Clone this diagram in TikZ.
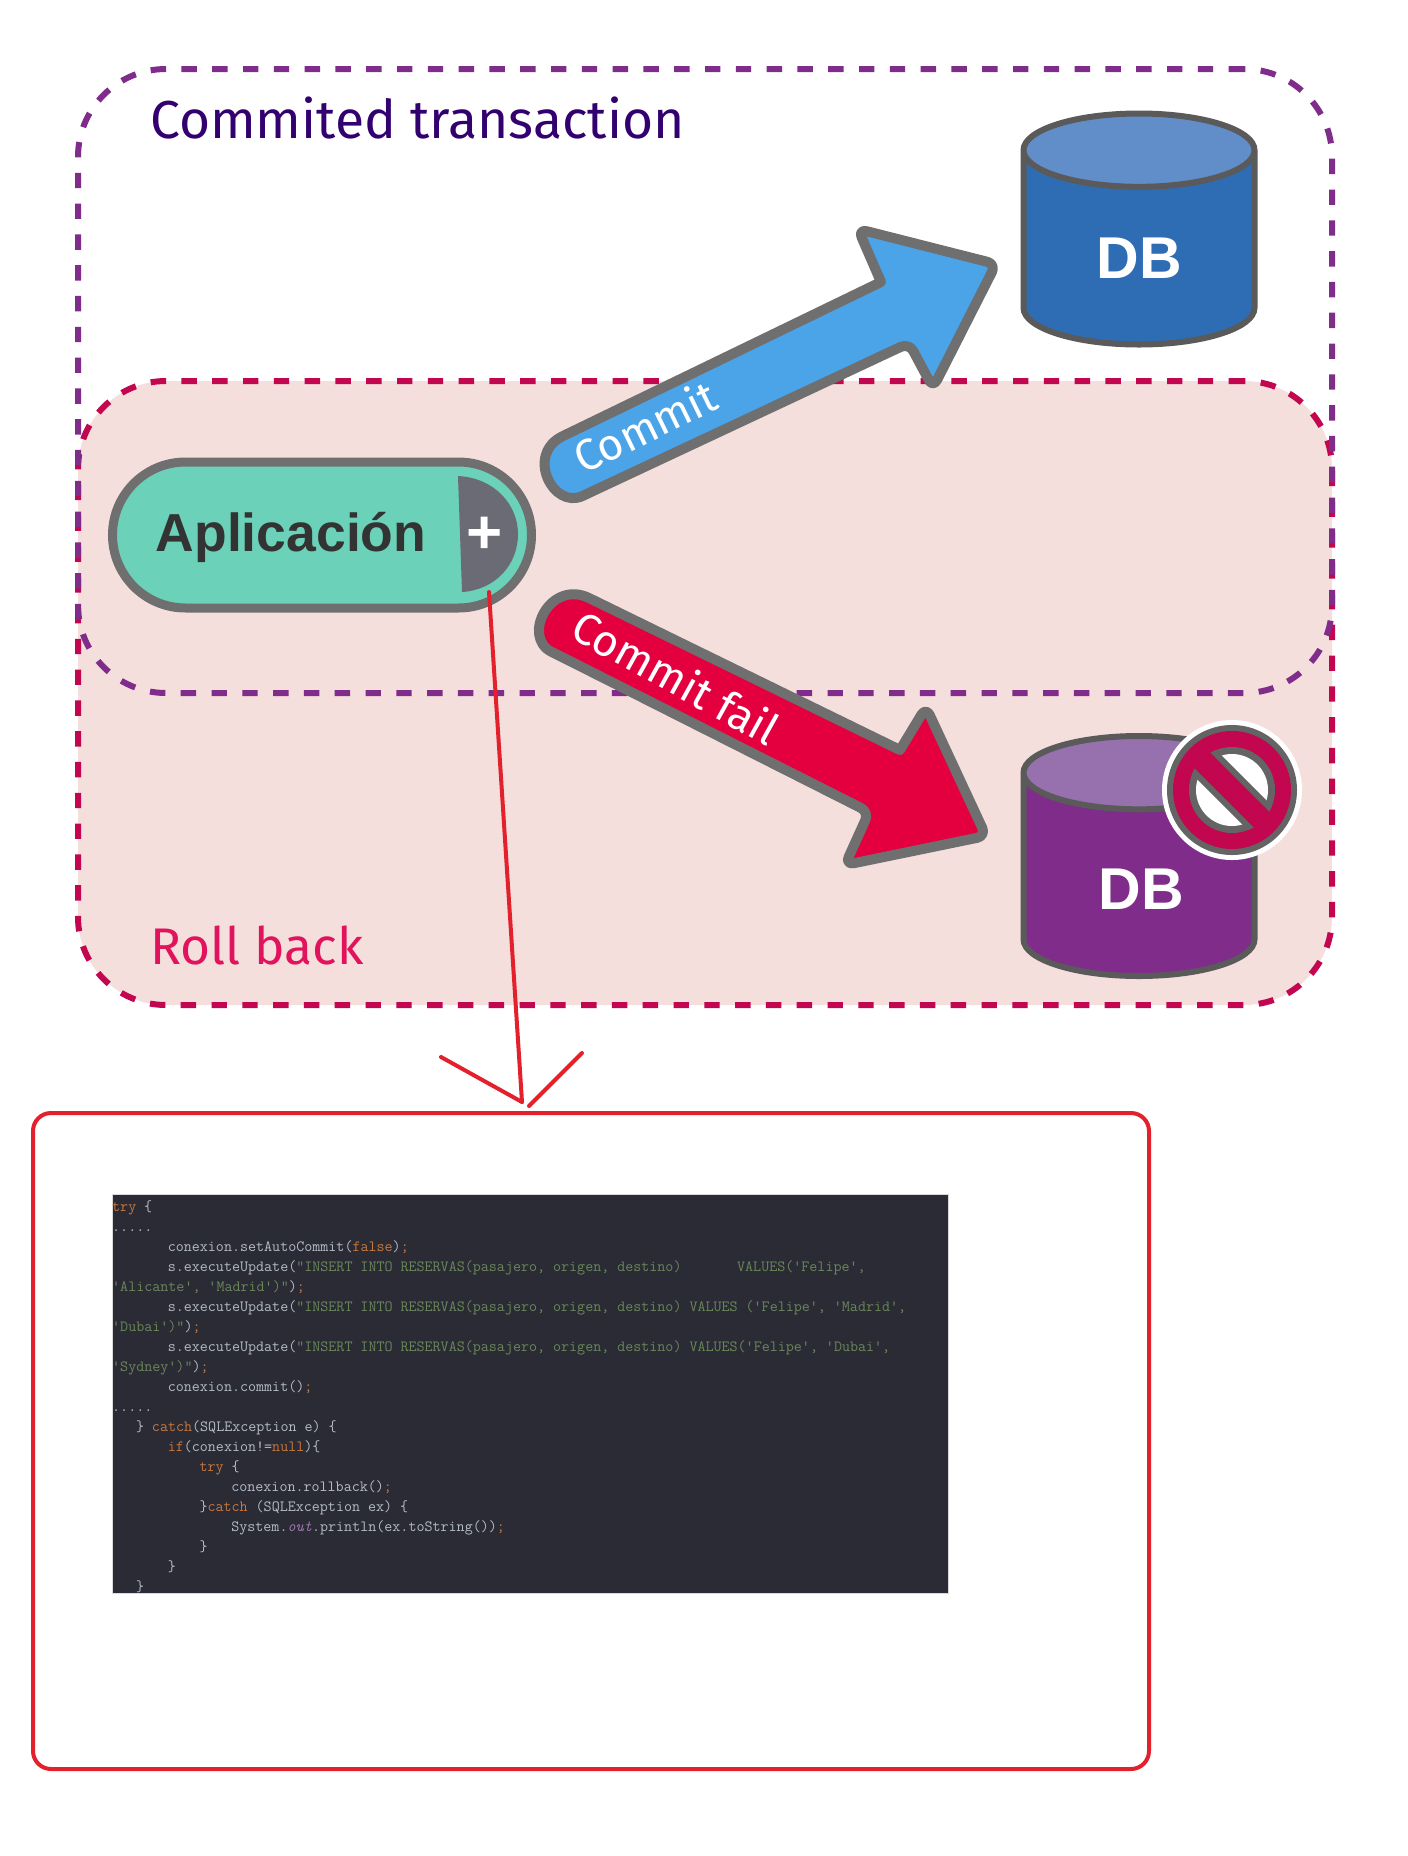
\documentclass[tikz,border=0pt]{standalone}
\usepackage{fontspec}
\usetikzlibrary{shapes.geometric,calc}
\setmainfont{Fira Sans}
\newfontfamily\boldfont{Liberation Sans}[BoldFont={Liberation Sans Bold}]
\definecolor{zonefill}{HTML}{F4DFDD}
\definecolor{zonered}{HTML}{C2064F}
\definecolor{zonepurple}{HTML}{7F2C8A}
\definecolor{edgegray}{HTML}{6F6F6F}
\definecolor{dbedge}{HTML}{5A5A5A}
\definecolor{linered}{HTML}{E3212D}
\definecolor{codebg}{HTML}{2B2B36}
\definecolor{codetxt}{HTML}{B4BCC6}
\definecolor{codekw}{HTML}{C8783C}
\definecolor{codestr}{HTML}{6A8759}
\definecolor{codeout}{HTML}{9876AA}
\newcommand{\kw}[1]{\textcolor{codekw}{#1}}
\newcommand{\str}[1]{\textcolor{codestr}{#1}}
\begin{document}
\begin{tikzpicture}[
    x=1pt, y=-1pt,
    zone/.style={rectangle, rounded corners=88pt, minimum width=1254pt, minimum height=624pt, dash pattern=on 15.4pt off 15.4pt, line width=6pt},
    dbase/.style={cylinder, anchor=shape center, shape border rotate=90, aspect=11, draw=dbedge, line width=6pt, cylinder uses custom fill, minimum width=231pt},
    dblabel/.style={text=white, inner sep=0pt, font=\boldfont\bfseries\fontsize{59}{59}\selectfont},
    bigarrow/.style={draw=edgegray, line width=10pt, line join=round, rounded corners=9pt},
    arrowlabel/.style={text=white, font=\fontsize{44}{44}\selectfont, inner sep=0pt},
    zonelabel/.style={anchor=west, inner sep=0pt},
    redline/.style={draw=linered, line width=4pt, line cap=round}
]
    \useasboundingbox (0,0) rectangle (1408,1856);

    % zones
    \node [zone, fill=zonefill] (rollzone) at (705,693) {};
    \node [zone, draw=zonered] at (705,693) {};
    \node [zone, draw=zonepurple] (commitzone) at (705,381) {};
    \node [zonelabel, text={rgb,255:red,51;green,0;blue,111}, font=\fontsize{53.4}{53.4}\selectfont] (committitle) at (150,118) {Commited transaction};
    \node [zonelabel, text={rgb,255:red,224;green,19;blue,92}, font=\fontsize{51.5}{51.5}\selectfont] (rolltitle) at (150,945) {Roll back};

    % arrows
    \draw [bigarrow, fill={rgb,255:red,75;green,163;blue,232}] (881,282) -- (858,229) -- (996,264) -- (933,388) -- (909,343) -- (591,492)
        [sharp corners] .. controls (553,510) and (525,454) .. (563,436) -- cycle;
    \draw [bigarrow, fill={rgb,255:red,228;green,0;blue,63}] (900,750) -- (926,707) -- (986,836) -- (845,865) -- (869,812) -- (560,656)
        [sharp corners] .. controls (521,637) and (550,579) .. (589,598) -- cycle;
    \node [arrowlabel, rotate=26] (commitlabel) at (645,426) {Commit};
    \node [arrowlabel, rotate=-29] (faillabel) at (676,677) {Commit fail};

    % application
    \node [rectangle, rounded corners=73pt, draw=edgegray, fill={rgb,255:red,107;green,209;blue,184}, line width=9pt, minimum width=419pt, minimum height=146pt] (app) at (322,535) {};
    \fill [fill={rgb,255:red,106;green,107;blue,117}] (458,476) .. controls (495,478) and (518,505) .. (518,534) .. controls (518,565) and (495,590) .. (462,592) -- cycle;
    \node [text={rgb,255:red,51;green,51;blue,51}, font=\boldfont\bfseries\fontsize{53.5}{53.5}\selectfont, inner sep=0pt] (applabel) at (291,537) {Aplicación};
    \node [text=white, font=\boldfont\bfseries\fontsize{62}{62}\selectfont, inner sep=0pt] (plus) at (485,535) {+};

    % databases
    \node [dbase, minimum height=231pt, cylinder body fill={rgb,255:red,46;green,109;blue,180}, cylinder end fill={rgb,255:red,97;green,141;blue,200}] (dbok) at (1139,229) {};
    \node [dbase, minimum height=240pt, cylinder body fill=zonepurple, cylinder end fill={rgb,255:red,151;green,112;blue,174}] (dbfail) at (1139,856) {};
    \node [dblabel] (dboklabel) at (1139,258) {DB};
    \node [dblabel] (dbfaillabel) at (1141,889) {DB};

    % no entry sign
    \node [circle, fill=white, minimum size=140pt, inner sep=0pt] (nosign) at (1232,790) {};
    \fill [edgegray!90!black] (nosign) circle (65);
    \fill [zonered] (nosign) circle (59);
    \fill [edgegray!90!black] (nosign) circle (43);
    \fill [white] (nosign) circle (36);
    \begin{scope}
        \clip (nosign) circle (43);
        \draw [edgegray!90!black, line width=34pt] ($(nosign)+(-45,-45)$) -- ($(nosign)+(45,45)$);
    \end{scope}
    \draw [zonered, line width=22pt] ($(nosign)+(-34,-34)$) -- ($(nosign)+(34,34)$);

    % code
    \node [rectangle, rounded corners=18pt, draw=linered, line width=4pt, minimum width=1116pt, minimum height=656pt, anchor=north west] (codebox) at (31,1111) {};
    \node [rectangle, anchor=north west, fill=codebg, draw=black!15, line width=.5pt, minimum width=836pt, minimum height=399pt] (codepanel) at (112,1194) {};
    \node [anchor=north west, text=codetxt, inner sep=0pt, text width=836pt, align=left, font=\ttfamily\fontsize{15.6}{20}\selectfont] (code) at (112,1200) {%
\spaceskip=7.94pt\xspaceskip=7.94pt\relax
\kw{try} \{\\
.....\\
~~~~~~~conexion.setAutoCommit(\kw{false})\kw{;}\\
~~~~~~~s.executeUpdate(\str{"INSERT INTO RESERVAS(pasajero, origen, destino)~~~~~~~VALUES('Felipe',}\\
\str{'Alicante', 'Madrid')"})\kw{;}\\
~~~~~~~s.executeUpdate(\str{"INSERT INTO RESERVAS(pasajero, origen, destino) VALUES ('Felipe', 'Madrid',}\\
\str{'Dubai')"})\kw{;}\\
~~~~~~~s.executeUpdate(\str{"INSERT INTO RESERVAS(pasajero, origen, destino) VALUES('Felipe', 'Dubai',}\\
\str{'Sydney')"})\kw{;}\\
~~~~~~~conexion.commit()\kw{;}\\
.....\\
~~~\} \kw{catch}(SQLException e) \{\\
~~~~~~~\kw{if}(conexion!=\kw{null})\{\\
~~~~~~~~~~~\kw{try} \{\\
~~~~~~~~~~~~~~~conexion.rollback()\kw{;}\\
~~~~~~~~~~~\}\kw{catch} (SQLException ex) \{\\
~~~~~~~~~~~~~~~System.\textcolor{codeout}{\itshape out}.println(ex.toString())\kw{;}\\
~~~~~~~~~~~\}\\
~~~~~~~\}\\
~~~\}};

    % hand drawn arrow
    \coordinate (linestart) at (489,592);
    \coordinate (lineend) at (522,1102);
    \coordinate (barbleft) at (441,1057);
    \coordinate (barbright) at (582,1053);
    \coordinate (barbfoot) at (529,1106);
    \draw [redline] (linestart) -- (lineend);
    \draw [redline] (barbleft) -- (lineend);
    \draw [redline] (barbright) -- (barbfoot);
\end{tikzpicture}
\end{document}
